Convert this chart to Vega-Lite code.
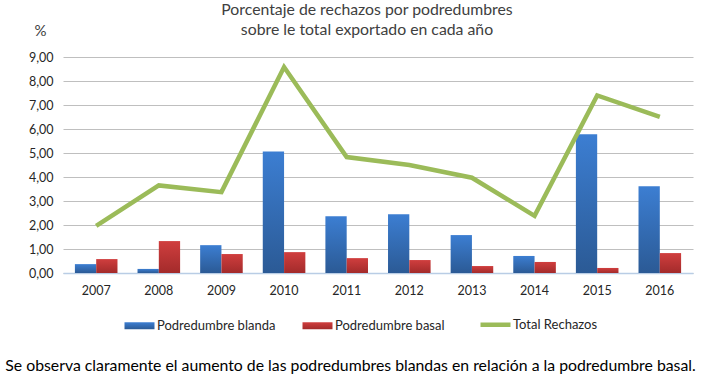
{
  "$schema": "https://vega.github.io/schema/vega-lite/v6.json",
  "autosize": "none",
  "width": 630,
  "height": 216,
  "padding": {"left": 63, "top": 57, "right": 16, "bottom": 112},
  "background": "white",
  "title": {
    "text": ["Porcentaje de rechazos por podredumbres", "sobre le total exportado en cada año"],
    "font": "Lato",
    "fontSize": 15.8,
    "fontWeight": "normal",
    "color": "#404040",
    "anchor": "middle",
    "frame": "group",
    "lineHeight": 20,
    "dx": -11,
    "dy": 20,
    "offset": 4
  },
  "config": {
    "view": {"stroke": null},
    "font": "Lato",
    "axis": {"labelFont": "Lato", "titleFont": "Lato", "labelColor": "#262626", "labelFontSize": 12.5}
  },
  "datasets": {
    "bars": [
      {"year": "2007", "series": "Podredumbre blanda", "value": 0.37},
      {"year": "2007", "series": "Podredumbre basal", "value": 0.58},
      {"year": "2008", "series": "Podredumbre blanda", "value": 0.17},
      {"year": "2008", "series": "Podredumbre basal", "value": 1.33},
      {"year": "2009", "series": "Podredumbre blanda", "value": 1.16},
      {"year": "2009", "series": "Podredumbre basal", "value": 0.79},
      {"year": "2010", "series": "Podredumbre blanda", "value": 5.06},
      {"year": "2010", "series": "Podredumbre basal", "value": 0.87},
      {"year": "2011", "series": "Podredumbre blanda", "value": 2.36},
      {"year": "2011", "series": "Podredumbre basal", "value": 0.62},
      {"year": "2012", "series": "Podredumbre blanda", "value": 2.45},
      {"year": "2012", "series": "Podredumbre basal", "value": 0.54},
      {"year": "2013", "series": "Podredumbre blanda", "value": 1.58},
      {"year": "2013", "series": "Podredumbre basal", "value": 0.29},
      {"year": "2014", "series": "Podredumbre blanda", "value": 0.71},
      {"year": "2014", "series": "Podredumbre basal", "value": 0.46},
      {"year": "2015", "series": "Podredumbre blanda", "value": 5.78},
      {"year": "2015", "series": "Podredumbre basal", "value": 0.21},
      {"year": "2016", "series": "Podredumbre blanda", "value": 3.61},
      {"year": "2016", "series": "Podredumbre basal", "value": 0.83}
    ],
    "total": [
      {"year": "2007", "series": "Total Rechazos", "value": 1.96},
      {"year": "2008", "series": "Total Rechazos", "value": 3.65},
      {"year": "2009", "series": "Total Rechazos", "value": 3.37},
      {"year": "2010", "series": "Total Rechazos", "value": 8.58},
      {"year": "2011", "series": "Total Rechazos", "value": 4.83},
      {"year": "2012", "series": "Total Rechazos", "value": 4.5},
      {"year": "2013", "series": "Total Rechazos", "value": 3.97},
      {"year": "2014", "series": "Total Rechazos", "value": 2.38},
      {"year": "2015", "series": "Total Rechazos", "value": 7.4},
      {"year": "2016", "series": "Total Rechazos", "value": 6.51}
    ]
  },
  "encoding": {
    "x": {
      "field": "year",
      "type": "nominal",
      "scale": {"paddingInner": 0.32, "paddingOuter": 0.19},
      "axis": {
        "labelAngle": 0,
        "ticks": false,
        "domainColor": "#B9CDE5",
        "domainWidth": 1.5,
        "labelPadding": 11,
        "title": "Se observa claramente el aumento de las podredumbres blandas en relación a la podredumbre basal.",
        "titleFont": "Lato",
        "titleFontSize": 15.8,
        "titleFontWeight": "normal",
        "titleColor": "#000000",
        "titleX": 287,
        "titleY": 92,
        "titleAlign": "center",
        "titleBaseline": "middle"
      }
    },
    "y": {
      "field": "value",
      "type": "quantitative",
      "scale": {"domain": [0, 9], "nice": false},
      "axis": {
        "values": [0, 1, 2, 3, 4, 5, 6, 7, 8, 9],
        "labelExpr": "replace(format(datum.value, '.2f'), '.', ',')",
        "domain": false,
        "ticks": false,
        "labelPadding": 10,
        "gridColor": "#BFBFBF",
        "gridWidth": 1,
        "title": "%",
        "titleAngle": 0,
        "titleX": -23,
        "titleY": -27,
        "titleAlign": "center",
        "titleBaseline": "middle",
        "titleFontSize": 15,
        "titleFontWeight": "normal",
        "titleColor": "#404040"
      }
    }
  },
  "layer": [
    {
      "data": {"name": "bars"},
      "mark": {"type": "bar", "opacity": 1},
      "encoding": {
        "xOffset": {"field": "series", "type": "nominal", "scale": {"domain": ["Podredumbre blanda", "Podredumbre basal"], "paddingInner": 0, "paddingOuter": 0}},
        "fill": {
          "condition": {
            "test": "datum.series === 'Podredumbre blanda'",
            "value": {"gradient": "linear", "x1": 0, "y1": 0, "x2": 0, "y2": 1, "stops": [{"offset": 0, "color": "#3C7ED2"}, {"offset": 1, "color": "#2B5A95"}]}
          },
          "value": {"gradient": "linear", "x1": 0, "y1": 0, "x2": 0, "y2": 1, "stops": [{"offset": 0, "color": "#D03E3E"}, {"offset": 1, "color": "#A32B2B"}]}
        }
      }
    },
    {
      "data": {"name": "total"},
      "mark": {"type": "line", "strokeWidth": 4.5, "strokeJoin": "miter", "strokeCap": "butt"},
      "encoding": {
        "color": {
          "field": "series",
          "type": "nominal",
          "scale": {
            "domain": ["Podredumbre blanda", "Podredumbre basal", "Total Rechazos"],
            "range": ["#3567B0", "#BA3535", "#9BBB59"]
          },
          "legend": {
            "orient": "none",
            "direction": "horizontal",
            "legendX": 70,
            "legendY": 261,
            "title": null,
            "labelFont": "Lato",
            "labelFontSize": 13,
            "labelColor": "#262626",
            "symbolSize": 900,
            "symbolStrokeWidth": 0,
            "symbolType": "M-1,-0.233H1V0.233H-1Z",
            "labelOffset": 11,
            "columnPadding": 26,
            "encode": {
              "symbols": {
                "update": {
                  "shape": {"signal": "datum.value === 'Total Rechazos' ? 'stroke' : 'M-1,-0.233H1V0.233H-1Z'"},
                  "fill": {"signal": "datum.value === 'Total Rechazos' ? 'transparent' : (datum.value === 'Podredumbre blanda' ? {gradient: 'linear', x1: 0, y1: 0, x2: 0, y2: 1, stops: [{offset: 0, color: '#3C7ED2'}, {offset: 1, color: '#2B5A95'}]} : {gradient: 'linear', x1: 0, y1: 0, x2: 0, y2: 1, stops: [{offset: 0, color: '#D03E3E'}, {offset: 1, color: '#A32B2B'}]})"},
                  "stroke": {"signal": "datum.value === 'Total Rechazos' ? '#9BBB59' : 'transparent'"},
                  "strokeWidth": {"signal": "datum.value === 'Total Rechazos' ? 4.5 : 0"},
                  "opacity": {"value": 1},
                  "fillOpacity": {"value": 1},
                  "strokeOpacity": {"value": 1}
                }
              }
            }
          }
        }
      }
    }
  ]
}
